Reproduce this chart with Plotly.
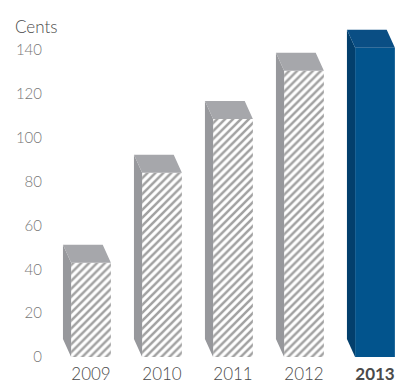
import plotly.graph_objects as go

# Dividend per share, cents
years = ["2009", "2010", "2011", "2012", "2013"]
cents = [43, 84, 108.5, 130.5, 141]
tick_vals = [0, 20, 40, 60, 80, 100, 120, 140]
highlight = "2013"

GREY_SIDE = "#97989c"
GREY_TOP = "#a6a7ab"
HATCH = "#c9c9c9"
BLUE_FRONT = "#02548d"
BLUE_SIDE = "#033f6c"
BLUE_TOP = "#0a4e84"

BAR_W = 0.56     # front face width (x units)
DEPTH_X = 0.115  # receding depth, x units
DEPTH_Y = 8.2    # receding depth, y units

x = list(range(len(years)))


def side_poly(i, v):
    xl = i - BAR_W / 2
    return [xl, xl - DEPTH_X, xl - DEPTH_X, xl, xl], [0, DEPTH_Y, v + DEPTH_Y, v, 0]


def top_poly(i, v):
    xl = i - BAR_W / 2
    xr = i + BAR_W / 2
    return ([xl, xl - DEPTH_X, xr - DEPTH_X, xr, xl],
            [v, v + DEPTH_Y, v + DEPTH_Y, v, v])


fig = go.Figure()

# front faces
fig.add_trace(go.Bar(
    x=x, y=cents, width=BAR_W,
    marker=dict(
        color=[BLUE_FRONT if y == highlight else "white" for y in years],
        line=dict(width=0),
        pattern=dict(
            shape=["" if y == highlight else "/" for y in years],
            fgcolor=HATCH, bgcolor="white", size=5.6, solidity=0.45,
        ),
    ),
    hoverinfo="skip", showlegend=False,
))


def add_faces(indices, side_col, top_col):
    sx, sy, tx, ty = [], [], [], []
    for i in indices:
        a, b = side_poly(i, cents[i])
        sx += a + [None]
        sy += b + [None]
        a, b = top_poly(i, cents[i])
        tx += a + [None]
        ty += b + [None]
    for px, py, col in ((sx, sy, side_col), (tx, ty, top_col)):
        fig.add_trace(go.Scatter(
            x=px, y=py, mode="lines", fill="toself", fillcolor=col,
            line=dict(width=0, color=col), hoverinfo="skip", showlegend=False,
        ))


add_faces([i for i, y in enumerate(years) if y != highlight], GREY_SIDE, GREY_TOP)
add_faces([i for i, y in enumerate(years) if y == highlight], BLUE_SIDE, BLUE_TOP)

fig.update_layout(
    width=398, height=383,
    margin=dict(l=50, r=0, t=17, b=26),
    paper_bgcolor="white", plot_bgcolor="white",
    font=dict(family="Lato, sans-serif", size=15, color="#6e6e6e", weight=300),
    xaxis=dict(
        range=[-0.5775, 4.324], showgrid=False, zeroline=False, showline=False,
        tickvals=x,
        ticktext=[f"<b>{y}</b>" if y == highlight else y for y in years],
        tickfont=dict(size=17, color="#4a4a4a", weight=300),
        ticks="", ticklabelstandoff=5, fixedrange=True,
    ),
    yaxis=dict(
        range=[0, 155], showgrid=False, zeroline=False, showline=False,
        tickvals=tick_vals, ticks="", ticklabelstandoff=7,
        tickfont=dict(size=15, color="#777777", weight=300), fixedrange=True,
    ),
    annotations=[dict(
        text="Cents", xref="paper", yref="paper",
        x=(13 - 50) / 348, y=(357 - 26) / 340, xanchor="left", yanchor="middle",
        showarrow=False, font=dict(size=17, color="#4a4a4a", weight=300),
    )],
)

fig.write_html("out.html")
